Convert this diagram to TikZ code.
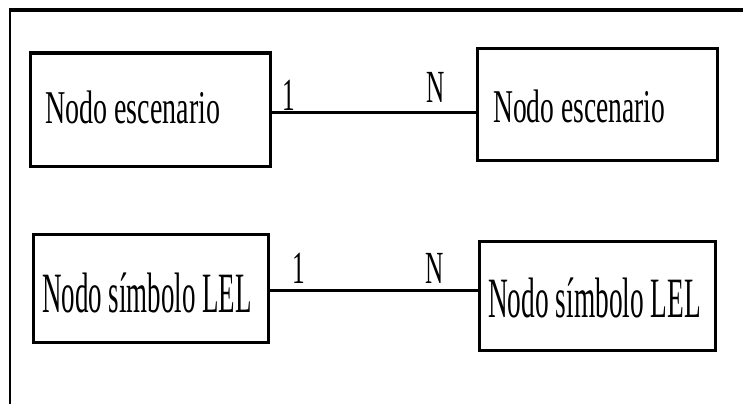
\documentclass[tikz,border=0pt]{standalone}
\usepackage{fontspec}
\setmainfont{Liberation Serif}
\begin{document}
\begin{tikzpicture}[x=1pt,y=-1pt,
  ebox/.style={draw,line width=3pt,inner sep=0pt},
  conn/.style={line width=3pt},
  txtA/.style={anchor=base west,inner sep=0pt,font=\fontsize{47}{50}\selectfont},
  txtB/.style={anchor=base west,inner sep=0pt,font=\fontsize{57}{60}\selectfont},
  card/.style={anchor=base,inner sep=0pt,font=\fontsize{46}{48}\selectfont}]
\useasboundingbox (0,0) rectangle (743,404);
\fill[white] (0,0) rectangle (743,404);
% frame
\draw[line width=4pt] (9,10) -- (743,10);
\draw[line width=2pt] (10,8) -- (10,404);
% boxes
\node[ebox,minimum width=240pt,minimum height=113pt] (b1) at (150,109.5) {};
\node[ebox,minimum width=240pt,minimum height=111pt] (b2) at (597,104.5) {};
\node[ebox,minimum width=235pt,minimum height=108pt] (b3) at (150.5,288) {};
\node[ebox,minimum width=236pt,minimum height=109pt] (b4) at (597,295.5) {};
% texts
\node[txtA] (t1) at (45,123) {\scalebox{0.596}[1]{Nodo escenario}};
\node[txtA] (t2) at (493,122) {\scalebox{0.586}[1]{Nodo escenario}};
\node[txtB] (t3) at (42,312) {\scalebox{0.473}[1]{Nodo símbolo LEL}};
\node[txtB] (t4) at (488,317) {\scalebox{0.48}[1]{Nodo símbolo LEL}};
% connectors
\draw[conn] ([yshift=-2.5pt]b1.east) -- ([yshift=-7.5pt]b2.west);
\draw[conn] ([yshift=-2pt]b3.east) -- ([yshift=5.5pt]b4.west);
% cardinalities
\node[card] (c1) at (289,110) {\scalebox{0.55}[1]{1}};
\node[card] (c2) at (435.5,102) {\scalebox{0.55}[1]{N}};
\node[card] (c3) at (298.5,283) {\scalebox{0.55}[1]{1}};
\node[card] (c4) at (434.5,283) {\scalebox{0.55}[1]{N}};
\end{tikzpicture}
\end{document}
